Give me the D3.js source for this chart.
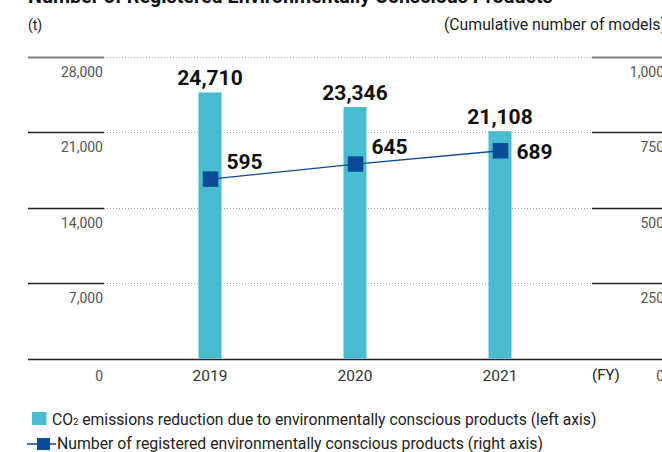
<!DOCTYPE html>
<html><head><meta charset="utf-8">
<script src="https://cdn.jsdelivr.net/npm/d3@7"></script>
<style>
body{margin:0;background:#fff;}
svg{display:block;font-family:Roboto,"Noto Sans",sans-serif;}
</style></head>
<body>
<svg id="c" width="662" height="452"></svg>
<script>
const years = ["2019","2020","2021"];
const co2Values = [24710, 23346, 21108];
const modelCounts = [595, 645, 689];
const leftTicks = [0, 7000, 14000, 21000, 28000];
const rightTicks = [0, 250, 500, 750, 1000];
const title = "Number of Registered Environmentally Conscious Products";
const leftUnit = "(t)";
const rightUnit = "(Cumulative number of models)";
const xUnit = "(FY)";
const legendBar = ["CO", "2", " emissions reduction due to environmentally conscious products (left axis)"];
const legendLine = "Number of registered environmentally conscious products (right axis)";

const svg = d3.select("#c");
const barColor = "#47bdcf", lineColor = "#0b4a97";
const y0 = 358.5, yTop = 57;

const x = d3.scaleBand().domain(years).range([137.5, 572.5]);
const yL = d3.scaleLinear().domain([0, 28000]).range([y0, yTop]);
const yR = d3.scaleLinear().domain([0, 1000]).range([y0, yTop]);

// title (partially clipped)
svg.append("text").attr("x", 28).attr("y", 3).attr("font-size", 19.7).attr("font-weight", 700)
  .attr("fill", "#111").text(title);
svg.append("text").attr("x", 28).attr("y", 30).attr("font-size", 14).attr("fill", "#222").text(leftUnit);
svg.append("text").attr("x", 666).attr("y", 30).attr("font-size", 15.8).attr("text-anchor", "end")
  .attr("fill", "#222").text(rightUnit);

// gridlines
leftTicks.forEach((t, i) => {
  const yy = Math.round(yL(t)) + 0.5;
  if (t === 0) {
    svg.append("line").attr("x1", 28).attr("x2", 662).attr("y1", yy).attr("y2", yy)
      .attr("stroke", "#222").attr("stroke-width", 1.3);
  } else {
    const top = t === 28000;
    const col = top ? "#808080" : "#222";
    const w = top ? 2 : 1.3;
    svg.append("line").attr("x1", 28).attr("x2", 104).attr("y1", yy).attr("y2", yy)
      .attr("stroke", col).attr("stroke-width", w);
    svg.append("line").attr("x1", 592).attr("x2", 662).attr("y1", yy).attr("y2", yy)
      .attr("stroke", col).attr("stroke-width", w);
    svg.append("line").attr("x1", 104).attr("x2", 592).attr("y1", yy).attr("y2", yy)
      .attr("stroke", "#aaa").attr("stroke-width", 1).attr("stroke-dasharray", "1,2");
  }
});

// left tick labels
svg.append("g").selectAll("text").data(leftTicks).join("text")
  .attr("x", 103).attr("y", d => yL(d) + (d === 0 ? 22.5 : 20))
  .attr("text-anchor", "end").attr("font-size", 14).attr("fill", "#555")
  .text(d => d3.format(",")(d));
// right tick labels
svg.append("g").selectAll("text").data(rightTicks).join("text")
  .attr("x", 664).attr("y", d => yR(d) + (d === 0 ? 22.5 : 20))
  .attr("text-anchor", "end").attr("font-size", 14).attr("fill", "#555")
  .text(d => d3.format(",")(d));

// bars
const bw = 23;
svg.append("g").selectAll("rect").data(co2Values).join("rect")
  .attr("x", (d, i) => x(years[i]) + x.bandwidth() / 2 - bw / 2)
  .attr("y", d => yL(d)).attr("width", bw).attr("height", d => y0 - yL(d))
  .attr("fill", barColor);
svg.append("g").selectAll("text").data(co2Values).join("text")
  .attr("x", (d, i) => x(years[i]) + x.bandwidth() / 2)
  .attr("y", d => yL(d) - 7.5)
  .attr("text-anchor", "middle").attr("font-size", 21).attr("font-weight", 700).attr("fill", "#111")
  .text(d => d3.format(",")(d));

// x labels
svg.append("g").selectAll("text").data(years).join("text")
  .attr("x", d => x(d) + x.bandwidth() / 2).attr("y", 381)
  .attr("text-anchor", "middle").attr("font-size", 15.5).attr("fill", "#333").text(d => d);
svg.append("text").attr("x", 592).attr("y", 380).attr("font-size", 15).attr("fill", "#222").text(xUnit);

// line
const cx = i => x(years[i]) + x.bandwidth() / 2 + 0.5;
const line = d3.line().x((d, i) => cx(i)).y(d => yR(d));
svg.append("path").datum(modelCounts).attr("d", line).attr("fill", "none")
  .attr("stroke", lineColor).attr("stroke-width", 1.3);
const ms = 15.5;
svg.append("g").selectAll("rect").data(modelCounts).join("rect")
  .attr("x", (d, i) => cx(i) - ms / 2).attr("y", d => yR(d) - ms / 2)
  .attr("width", ms).attr("height", ms).attr("fill", lineColor);
svg.append("g").selectAll("text").data(modelCounts).join("text")
  .attr("x", (d, i) => cx(i) + 16)
  .attr("y", (d, i) => yR(d) + (i === modelCounts.length - 1 ? 8 : -10))
  .attr("font-size", 21).attr("font-weight", 700).attr("fill", "#111")
  .text(d => d3.format(",")(d));

// legend
svg.append("rect").attr("x", 32).attr("y", 412).attr("width", 14.5).attr("height", 13).attr("fill", barColor);
const lt = svg.append("text").attr("x", 52).attr("y", 424.5).attr("font-size", 15.7).attr("fill", "#222");
lt.append("tspan").text(legendBar[0]);
lt.append("tspan").attr("font-size", 9.5).text(legendBar[1]);
lt.append("tspan").text(legendBar[2]);
svg.append("line").attr("x1", 27).attr("x2", 56).attr("y1", 444).attr("y2", 444)
  .attr("stroke", lineColor).attr("stroke-width", 1.5);
svg.append("rect").attr("x", 37).attr("y", 438).attr("width", 13).attr("height", 12).attr("fill", lineColor);
svg.append("text").attr("x", 57).attr("y", 449).attr("font-size", 15.8).attr("fill", "#222").text(legendLine);
</script>
</body></html>
